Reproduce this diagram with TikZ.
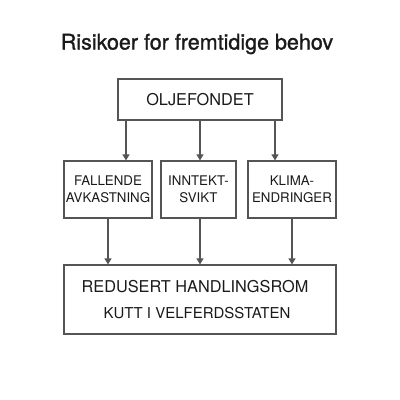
\documentclass[tikz,border=0pt]{standalone}
\usepackage{fontspec}
\setmainfont{TeX Gyre Heros}
\newfontfamily\titlefont[FakeBold=1.2]{TeX Gyre Heros}
\usetikzlibrary{arrows.meta}
\definecolor{lc}{HTML}{555555}
\definecolor{tc}{HTML}{1A1A1A}
\begin{document}
\begin{tikzpicture}[x=1pt,y=-1pt,
  box/.style={draw=lc,line width=1.2pt,fill=white,inner sep=0pt,text=tc},
  mid/.style={box,minimum height=57pt,align=center,font=\fontsize{13.3}{16.5}\selectfont},
  arr/.style={draw=lc,line width=1.4pt,-{Triangle[length=6pt,width=7pt]}}]
\useasboundingbox[fill=white] (0,0) rectangle (400,400);
\node[text=tc,font=\titlefont\fontsize{21.5}{24}\selectfont] (title) at (197,44) {Risikoer for fremtidige behov};
\node[box,minimum width=164pt,minimum height=41pt,font=\fontsize{16.3}{18}\selectfont] (top) at (200,99.5) {OLJEFONDET};
\node[mid,minimum width=88pt] (m1) at (108,189.5) {FALLENDE\\AVKASTNING};
\node[mid,minimum width=75pt] (m2) at (198.5,189.5) {INNTEKT-\\SVIKT};
\node[mid,minimum width=88pt] (m3) at (292,189.5) {KLIMA-\\ENDRINGER};
\node[box,minimum width=272pt,minimum height=69pt] (bot) at (200,299.5) {};
\node[text=tc,font=\fontsize{16.3}{18}\selectfont] (b1) at (195,287) {REDUSERT HANDLINGSROM};
\node[text=tc,font=\fontsize{15}{18}\selectfont] (b2) at (197,313) {KUTT I VELFERDSSTATEN};
\draw[arr] (top.south -| 126,0) -- (m1.north -| 126,0);
\draw[arr] (top.south -| 200,0) -- (m2.north -| 200,0);
\draw[arr] (top.south -| 275,0) -- (m3.north -| 275,0);
\draw[arr] (m1.south -| 108,0) -- (bot.north -| 108,0);
\draw[arr] (m2.south -| 200,0) -- (bot.north -| 200,0);
\draw[arr] (m3.south -| 292,0) -- (bot.north -| 292,0);
\end{tikzpicture}
\end{document}
